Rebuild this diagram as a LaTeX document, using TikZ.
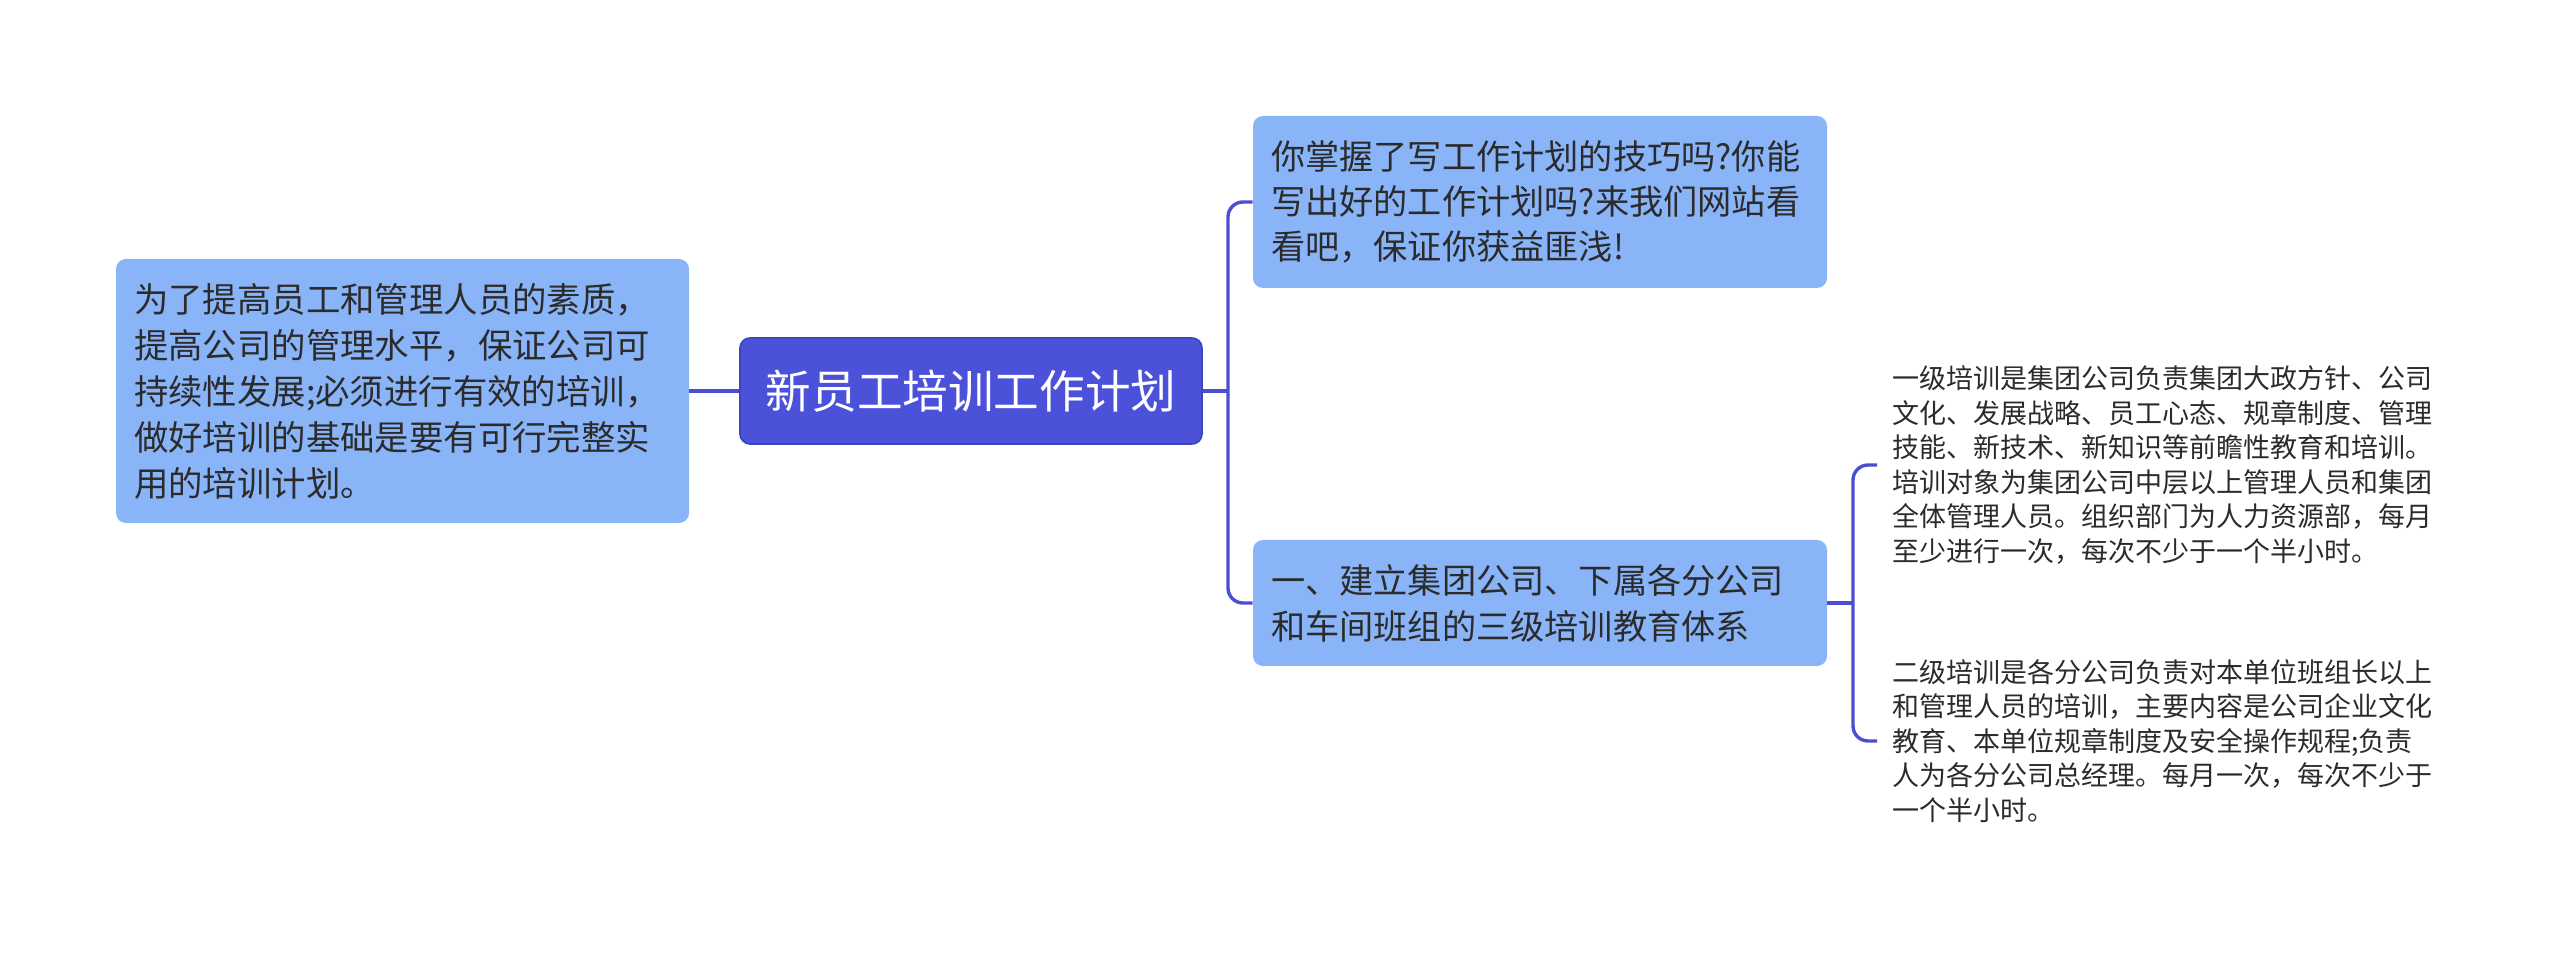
\documentclass[tikz,border=0pt]{standalone}
\usepackage{fontspec}
\setmainfont{Noto Sans CJK SC}
\definecolor{linec}{HTML}{4A4FCF}
\definecolor{mainfill}{HTML}{4B52D9}
\definecolor{maindraw}{HTML}{3D44BE}
\definecolor{lightfill}{HTML}{8AB4F8}
\definecolor{txt}{HTML}{2B2B2B}
\tikzset{
  lbox/.style={rectangle, rounded corners=5pt, fill=lightfill, draw=none, text=txt,
    align=left, inner xsep=9pt, inner ysep=0pt},
  mainbox/.style={rectangle, rounded corners=5pt, fill=mainfill, draw=maindraw, line width=0.8pt,
    text=white, align=center, inner sep=0pt},
  plain/.style={text=txt, align=left, inner sep=0pt, anchor=west},
  conn/.style={draw=linec, line width=1.7pt, rounded corners=7.5pt},
}
\begin{document}
\begin{tikzpicture}[x=0.5pt,y=-0.5pt]
\useasboundingbox (0,0) rectangle (2560,956);
\fill[white] (0,0) rectangle (2560,956);

\node[lbox, minimum width=286.5pt, minimum height=132pt, text width=268.5pt,
  font=\fontsize{17.2pt}{23pt}\selectfont] (L) at (402.5,391)
  {为了提高员工和管理人员的素质，\\提高公司的管理水平，保证公司可\\持续性发展;必须进行有效的培训，\\做好培训的基础是要有可行完整实\\用的培训计划。};

\node[mainbox, minimum width=231pt, minimum height=53pt,
  font=\fontsize{22.8pt}{28pt}\selectfont] (C) at (971,391) {新员工培训工作计划};

\node[lbox, minimum width=287pt, minimum height=86pt, text width=269pt,
  font=\fontsize{17.1pt}{22.5pt}\selectfont] (T) at (1540,202)
  {你掌握了写工作计划的技巧吗?你能\\写出好的工作计划吗?来我们网站看\\看吧，保证你获益匪浅!};

\node[lbox, minimum width=287pt, minimum height=63pt, text width=269pt,
  font=\fontsize{17.1pt}{23pt}\selectfont] (B) at (1540,603)
  {一、建立集团公司、下属各分公司\\和车间班组的三级培训教育体系};

\node[plain, text width=275pt, font=\fontsize{13.5pt}{17.3pt}\selectfont] (P1) at (1892,465)
  {一级培训是集团公司负责集团大政方针、公司\\文化、发展战略、员工心态、规章制度、管理\\技能、新技术、新知识等前瞻性教育和培训。\\培训对象为集团公司中层以上管理人员和集团\\全体管理人员。组织部门为人力资源部，每月\\至少进行一次，每次不少于一个半小时。};

\node[plain, text width=275pt, font=\fontsize{13.5pt}{17.2pt}\selectfont] (P2) at (1892,741)
  {二级培训是各分公司负责对本单位班组长以上\\和管理人员的培训，主要内容是公司企业文化\\教育、本单位规章制度及安全操作规程;负责\\人为各分公司总经理。每月一次，每次不少于\\一个半小时。};

\coordinate (J1) at (1228,391);
\coordinate (J2) at (1853,603);
\coordinate (P1e) at ([xshift=-7.5pt]P1.west);
\coordinate (P2e) at ([xshift=-7.5pt]P2.west);

\draw[conn] (L.east) -- (C.west);
\draw[conn] (C.east) -- (J1);
\draw[conn] (T.west) -| (J1) |- (B.west);
\draw[conn] (B.east) -- (J2);
\draw[conn] (P1e) -| (J2) |- (P2e);
\end{tikzpicture}
\end{document}
